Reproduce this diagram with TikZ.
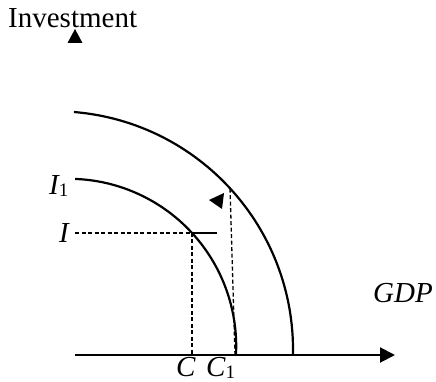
\documentclass[tikz,border=0pt]{standalone}
\usepackage{fontspec}
\setmainfont{Liberation Serif}
\usepackage{tikz}
\usetikzlibrary{arrows.meta,positioning,calc}
\newcommand{\lowsub}[1]{\raisebox{-2pt}{\fontsize{19}{19}\selectfont\upshape #1}}
\tikzset{
  paxis/.style={line width=2pt, -{Triangle[length=15pt,width=15pt]}},
  pcurve/.style={line width=2.2pt},
  pdash/.style={line width=1.3pt, dash pattern=on 4pt off 2.5pt},
  plabel/.style={font=\fontsize{29}{34}\selectfont, inner sep=0pt}
}

\begin{document}
\begin{tikzpicture}[x=1pt,y=1pt]
    \useasboundingbox (0,0) rectangle (436,382);
    % axis and curve centres
    \coordinate (O) at (75,27);
    \coordinate (xend) at (395,27);
    \coordinate (cin) at (68.7,35.7);
    \coordinate (cout) at (54.4,32.2);
    \coordinate (P) at ($(cin)+(42.6:167.5)$);
    \coordinate (Q) at ($(cout)+(42.6:238.6)$);
    \coordinate (Pt) at (217,0|-P);
    \coordinate (Il) at (75,0|-P);
    \coordinate (C) at (P|-O);
    \coordinate (Cone) at (235,27);
    \draw[paxis] (O) -- (xend);
    \fill (75,353) -- (67.5,339) -- (82.5,339) -- cycle;
    % production possibility curves
    \draw[pcurve] ($(cin)+(87.8:167.5)$) arc[start angle=87.8, end angle=-2.6, radius=167.5];
    \draw[pcurve] ($(cout)+(85.3:238.6)$) arc[start angle=85.3, end angle=-1, radius=238.6];
    \draw[pdash] (Il) -- (P);\draw[pdash] (P) -- (C);\draw[pdash] (Cone) -- (Q);
    \draw[line width=2pt] (P) -- (Pt);
    \fill (209,182) -- (224,189) -- (222,173) -- cycle;
    % labels
    \node[plabel,anchor=base west] (inv) at (8,354) {Investment};
    \node[plabel,anchor=base west] (ione) at (49,187) {\itshape I\lowsub{1}};
    \node[plabel,anchor=base east] (ilab) at (69,139) {\itshape I};
    \node[plabel,anchor=base west] (gdp) at (373,79) {\itshape GDP};
    \node[plabel,anchor=base west] (clab) at (176,5) {\itshape C};
    \node[plabel,anchor=base west] (cone) at (206,5) {\itshape C\lowsub{1}};
\end{tikzpicture}
\end{document}
